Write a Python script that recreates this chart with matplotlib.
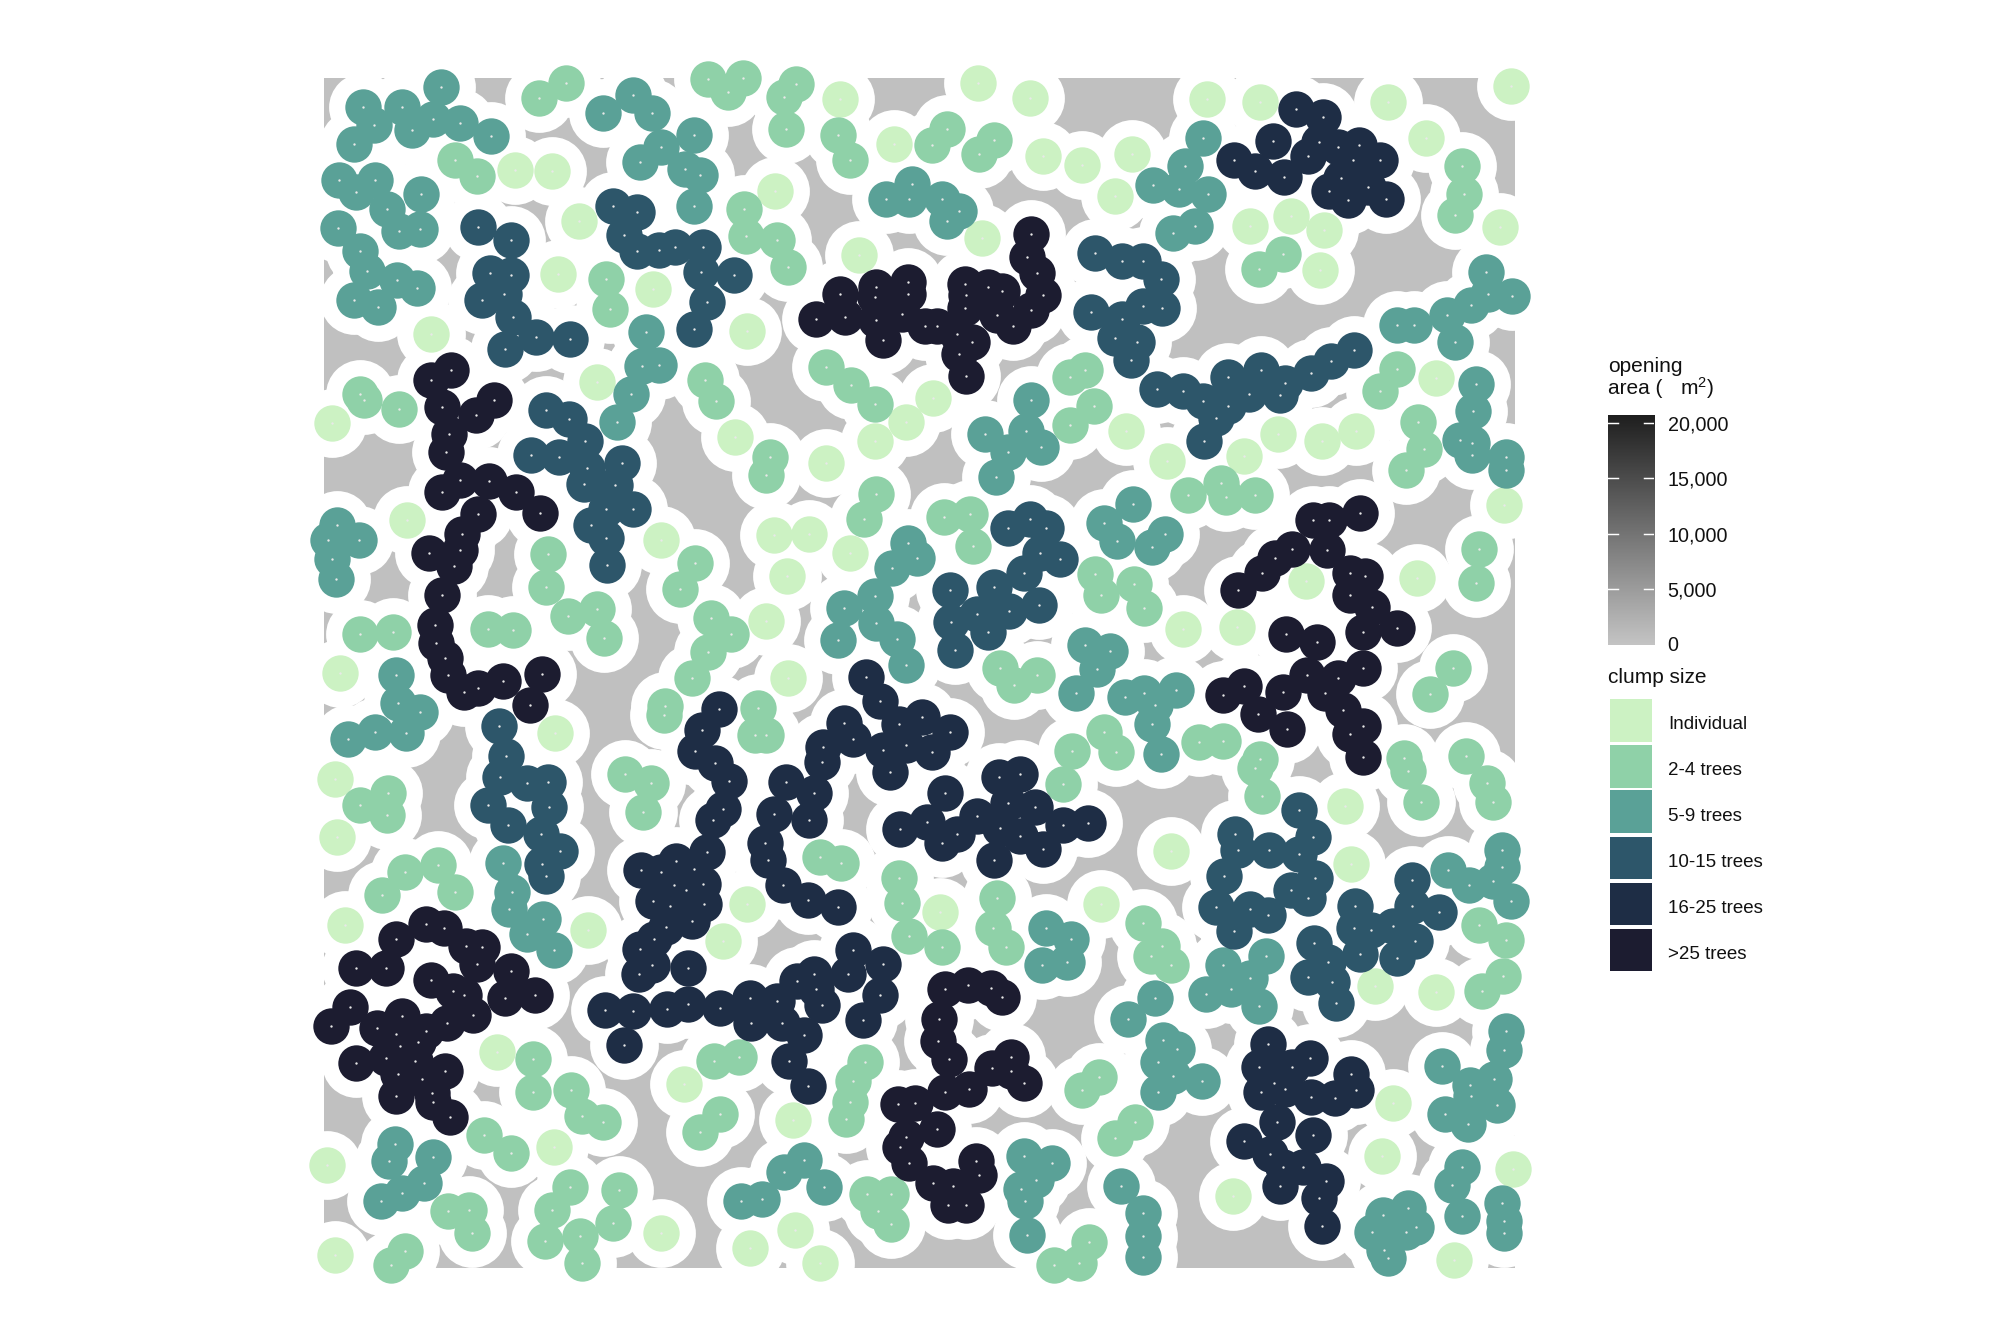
import numpy as np
import matplotlib
matplotlib.use('Agg')
import matplotlib.pyplot as plt
from matplotlib.patches import Rectangle

plt.rcParams['font.family'] = ['Liberation Sans', 'DejaVu Sans']
plt.rcParams['mathtext.default'] = 'regular'

# tree positions (map units, y runs downwards)
individual = [(527,295),(618,298),(1322,121),(1456,230),(1164,347),(683,420),(1369,503),(632,548),(866,587),(322,697),(1096,689),(727,813),(78,915),(1551,853),(1485,912),(1408,959),(1067,948),(1289,1013),(263,1152),(884,1200),(1161,1189),(1248,1185),(1348,1233),(1194,1290),(1143,1400),(97,1527),(1197,1540),
    (1661,81),(1788,117),(2222,121),(2353,128),(2667,128),(2966,88),(2759,215),(1820,260),(1916,282),(2039,256),(1996,358),(2941,434),(2328,431),(2427,408),(2510,441),(2499,540),(1672,460),(2025,934),(2124,1007),(2314,996),(2397,941),(2503,959),(2587,934),(2783,803),(2951,1116),(2466,1301),(2736,1295),(2164,1418),(2295,1415),
    (625,1673),(86,1786),(92,1928),(1096,2093),(706,2155),(111,2144),(1037,2184),(483,2454),(942,2534),(1208,2621),(622,2687),(67,2731),(884,2899),(1212,2891),(1102,2935),(1274,2971),(86,2953),
    (1569,2111),(1963,2093),(2134,1962),(2561,1852),(2575,1994),(2633,2293),(2783,2308),(2678,2581),(2650,2709),(2287,2807),(2973,2742),(2827,2964)]

trees_2_4 = [(585,117),(651,81),(1000,72),(1085,70),(1048,103),(1216,84),(1186,116),(1190,195),(1318,208),(1347,270),(381,270),(435,310),(1088,390),(1092,456),(1168,467),(1197,533),(749,562),(760,635),(1288,777),(1351,821),(1408,868),(993,810),(1019,860),(147,842),(156,858),(242,879),(1151,998),(1142,1042),(1412,1087),(1383,1150),(609,1236),(603,1316),(657,1386),(727,1371),(745,1440),(968,1258),(931,1322),(1008,1393),(1056,1432),(1000,1476),(960,1540),(147,1430),(228,1425),(461,1418),(523,1421),
    (1548,232),(1585,193),(1664,254),(1701,222),(2847,285),(2853,352),(2831,404),(2349,536),(2408,500),(1887,802),(1924,784),(1887,919),(1946,872),(2689,781),(2646,836),(2740,912),(2755,978),(2711,1029),(2176,1091),(2256,1062),(2268,1095),(2339,1091),(1577,1145),(1642,1138),(1650,1216),(1948,1284),(1963,1335),(2044,1308),(2069,1368),(2889,1222),(2882,1306),(2824,1515),(1716,1515),(1806,1531),
    (895,1608),(892,1630),(1122,1612),(1114,1678),(1143,1678),(796,1775),(860,1796),(840,1867),(147,1849),(216,1820),(214,1875),(257,2013),(338,1998),(381,2064),(202,2071),(1274,1977),(1325,1991),(1467,2028),(1474,2090),(1492,2170),(570,2472),(570,2553),(665,2549),(691,2611),(743,2626),(450,2659),(516,2702),(1014,2476),(1076,2468),(1384,2480),(1354,2525),(1347,2577),(1337,2619),(1029,2606),(979,2650),(661,2786),(618,2841),(781,2793),(767,2874),(600,2918),(687,2907),(691,2973),(362,2844),(414,2841),(421,2899),(1390,2804),(1449,2804),(1417,2844),(1447,2877),(257,2943),(224,2976),
    (1749,1557),(1891,1718),(1869,1798),(1971,1671),(2000,1721),(2204,1696),(2262,1693),(2353,1737),(2340,1760),(2356,1828),(2768,1579),(2704,1736),(2715,1766),(2747,1842),(2856,1731),(2908,1796),(2922,1843),(1708,2077),(1697,2151),(1730,2199),(1572,2199),(2065,2140),(2111,2195),(2086,2221),(2134,2241),(2889,2144),(2955,2181),(2947,2268),(2897,2305),(1959,2517),(1916,2549),(2047,2626),(1996,2665),(1847,2976),(1909,2971),(1933,2921)]

trees_5_9 = [(345,91),(154,140),(250,140),(181,184),(275,197),(326,170),(392,179),(468,212),(133,230),(96,320),(183,318),(137,348),(297,354),(214,391),(93,437),(242,445),(294,438),(148,492),(165,541),(237,565),(286,584),(133,614),(191,631),(742,154),(815,110),(862,154),(965,208),(885,239),(832,274),(943,291),(979,307),(965,382),(92,1163),(69,1200),(144,1200),(78,1248),(89,1296),(235,1531),(847,692),(838,775),(880,773),(811,843),(778,911),(1435,365),(1493,365),(1500,328),(1573,365),(1615,394),(1585,419),(1489,1207),(1511,1245),(1450,1270),(1408,1337),(1332,1367),(1412,1405),(1464,1443),(1318,1445),(1486,1506),
    (2212,215),(2168,285),(2091,332),(2153,340),(2226,354),(2138,448),(2194,432),(2905,544),(2970,602),(2912,598),(2868,624),(2810,650),(2689,675),(2730,675),(2831,716),(2882,818),(2875,884),(2842,956),(2871,964),(2871,992),(2955,998),(2955,1029),(1792,857),(1679,941),(1780,934),(1815,974),(1735,985),(1705,1047),(2040,1113),(1971,1160),(2003,1204),(2120,1186),(2087,1219),(1924,1458),(1984,1472),(1952,1516),
    (240,1600),(294,1623),(183,1670),(260,1673),(117,1688),(232,2680),(218,2723),(326,2713),(305,2775),(250,2800),(198,2819),(497,1992),(519,2062),(512,2104),(595,2129),(556,2166),(622,2205),(1234,2720),(1186,2748),(1285,2786),(1080,2819),(1131,2815),
    (1902,1575),(2022,1585),(2068,1575),(2146,1568),(2094,1605),(2087,1652),(2109,1726),(1828,2151),(1890,2178),(1818,2241),(1880,2235),(2262,2242),(2368,2220),(2328,2275),(2280,2300),(2219,2312),(2350,2342),(2094,2322),(2029,2374),(2115,2425),(2148,2448),(2102,2480),(2140,2513),(2210,2527),(2102,2553),(1773,2709),(1842,2727),(1767,2790),(1803,2768),(1777,2819),(1781,2903),(2011,2783),(2066,2849),(2065,2907),(2065,2957),(2955,2403),(2951,2450),(2798,2490),(2867,2535),(2926,2520),(2868,2564),(2805,2608),(2862,2632),(2933,2585),(2812,2008),(2865,2045),(2944,1959),(2944,2003),(2922,2035),(2966,2085),(2848,2738),(2823,2782),(2846,2858),(2944,2826),(2951,2870),(2951,2899),(2654,2855),(2715,2837),(2735,2884),(2627,2895),(2657,2940),(2667,2960),(2710,2895)]

trees_10_15 = [(767,382),(826,397),(794,453),(826,494),(880,490),(920,483),(987,482),(983,545),(1063,551),(997,617),(965,685),(436,435),(516,467),(466,547),(517,551),(446,613),(501,597),(523,655),(579,703),(661,708),(502,733),(603,882),(660,905),(699,959),(566,992),(635,998),(704,1024),(790,1013),(695,1064),(772,1066),(815,1124),(751,1125),(712,1164),(750,1197),(753,1263),
    (1948,497),(2014,518),(2065,518),(2109,562),(2066,628),(2112,632),(1937,642),(2014,660),(1996,705),(2050,716),(2036,760),(2101,831),(2164,835),(2213,860),(2275,802),(2355,784),(2413,817),(2477,791),(2526,762),(2583,736),(2325,842),(2273,872),(2244,901),(2401,846),(2215,959),(1734,1171),(1789,1150),(1829,1171),(1814,1233),(1862,1248),(1774,1281),(1700,1315),(1592,1323),(1594,1402),(1660,1382),(1737,1374),(1811,1359),(1686,1425),(1606,1470),
    (487,1656),(505,1729),(490,1781),(556,1796),(608,1794),(610,1855),(461,1850),(510,1900),(590,1920),(636,1962),(592,1994),(603,2023),
    (2290,1920),(2375,1960),(2298,1961),(2449,1863),(2482,1929),(2448,1969),(2488,2029),(2265,2023),(2429,2057),(2470,2077),(2245,2100),(2327,2104),(2371,2119),(2288,2158),(2725,2034),(2585,2097),(2623,2156),(2582,2151),(2679,2147),(2724,2098),(2790,2112),(2731,2184),(2689,2225),(2598,2214),(2484,2187),(2519,2235),(2469,2271),(2528,2283),(2539,2334)]

trees_16_25 = [(2441,146),(2507,164),(2383,223),(2496,226),(2544,238),(2595,234),(2470,260),(2288,270),(2339,296),(2411,311),(2580,270),(2646,270),(2551,314),(2617,336),(2521,347),(2568,369),(2660,365),
    (1388,1536),(1420,1594),(1467,1651),(1525,1634),(1333,1650),(1355,1688),(1281,1708),(1278,1745),(1429,1715),(1484,1703),(1445,1770),(1592,1670),(1548,1721),(1026,1615),(986,1667),(969,1718),(1016,1747),(1052,1792),(1037,1861),(1012,1886),(998,1966),(1190,1793),(1260,1821),(1161,1871),(1248,1886),(1140,1944),(1147,1984),(1183,2045),(1245,2082),(1318,2100),
    (836,2009),(885,2014),(921,1986),(966,2007),(987,2044),(917,2046),(865,2084),(907,2098),(947,2058),(990,2092),(960,2134),(898,2148),(868,2178),(833,2203),(862,2241),(830,2263),(950,2250),
    (1355,2206),(1429,2239),(1344,2264),(1260,2265),(1219,2282),(1265,2300),(1420,2315),(1278,2341),(1380,2377),(1102,2323),(1168,2330),(1180,2385),(1106,2385),(1234,2414),(1198,2476),(1245,2538),(748,2352),(815,2355),(900,2349),(951,2338),(1029,2348),(793,2439),
    (1713,1782),(1765,1775),(1580,1820),(1735,1845),(1800,1855),(1536,1892),(1610,1920),(1660,1878),(1573,1943),(1715,1907),(1765,1925),(1820,1958),(1700,1985),(1870,1900),(1930,1893),(1470,1910),
    (2372,2435),(2474,2469),(2575,2508),(2351,2491),(2431,2491),(2387,2530),(2354,2552),(2413,2545),(2476,2566),(2536,2568),(2587,2547),(2393,2626),(2481,2659),(2314,2672),(2377,2705),(2457,2737),(2409,2738),(2514,2770),(2402,2784),(2496,2813),(2503,2881)]

trees_over_25 = [(370,784),(322,810),(347,875),(476,857),(431,894),(366,940),(359,985),(393,1055),(348,1082),(464,1057),(530,1082),(589,1134),(436,1137),(396,1186),(392,1225),(316,1232),(378,1264),(347,1335),(330,1410),(334,1452),(356,1490),(362,1531),(436,1563),(497,1545),(592,1530),
    (1323,598),(1264,660),(1335,654),(1412,580),(1490,568),(1408,605),(1490,597),(1412,662),(1475,647),(1429,711),(1532,676),(1562,676),(1630,574),(1685,582),(1720,590),(1633,600),(1630,633),(1708,650),(1790,638),(1820,600),(1805,547),(1782,508),(1792,450),(1748,676),(1610,695),(1647,716),(1615,745),(1631,800),
    (2598,1134),(2482,1152),(2521,1152),(2430,1222),(2517,1226),(2388,1244),(2573,1281),(2358,1281),(2609,1288),(2298,1323),(2573,1336),(2627,1365),(2689,1416),(2605,1425),(2415,1431),(2492,1450),
    (401,1572),(563,1605),(308,2142),(352,2151),(235,2179),(407,2196),(447,2199),(137,2250),(210,2250),(435,2239),(517,2257),(322,2279),(375,2305),(403,2315),(577,2315),(502,2322),(122,2344),(424,2364),(75,2392),(360,2385),(250,2367),(188,2396),(308,2404),(245,2440),(138,2483),(210,2470),(282,2476),(355,2501),(235,2562),(323,2555),(325,2577),(367,2615),(235,2410),(290,2430),(240,2510),(300,2520),(1465,2582),(1508,2580),(1484,2663),(1471,2687),(1492,2727),
    (2313,1558),(2262,1580),(2408,1573),(2468,1531),(2543,1538),(2605,1514),(2511,1575),(2555,1617),(2347,1628),(2419,1663),(2605,1657),(2572,1675),(2605,1732),
    (1580,2300),(1638,2290),(1692,2298),(1720,2321),(1565,2374),(1563,2427),(1591,2472),(1743,2467),(1695,2495),(1742,2502),(1640,2546),(1580,2554),(1775,2530),(1562,2643),(1657,2723),(1664,2757),(1599,2783),(1550,2775),(1588,2830),(1632,2830)]

clump_labels = ['Individual', '2-4 trees', '5-9 trees', '10-15 trees', '16-25 trees', '>25 trees']
clump_colors = ['#CCF2C3', '#8FD1A8', '#5AA197', '#2D566A', '#1E2D45', '#1C1C30']
clumps = [individual, trees_2_4, trees_5_9, trees_10_15, trees_16_25, trees_over_25]

opening_ticks = [0, 5000, 10000, 15000, 20000]

W, H = 2016, 1344
DPI = 150


def axes_px(left, top, right, bottom):
    return fig.add_axes([left / W, 1 - bottom / H, (right - left) / W, (bottom - top) / H])


fig = plt.figure(figsize=(W / DPI, H / DPI), dpi=DPI)

# map
ax = axes_px(324, 78, 1515, 1267.5)
ax.set_facecolor('#C0C0C0')
ax.set_xlim(59, 2977)
ax.set_ylim(2983, 69)
ax.set_xticks([])
ax.set_yticks([])
for s in ax.spines.values():
    s.set_visible(False)

all_trees = np.array([p for c in clumps for p in c])
ax.scatter(all_trees[:, 0], all_trees[:, 1], s=1090, color='white', linewidths=0, clip_on=False, zorder=2)
for trees, col in zip(clumps, clump_colors):
    xy = np.array(trees)
    ax.scatter(xy[:, 0], xy[:, 1], s=305, color=col, linewidths=0, clip_on=False, zorder=3)
ax.scatter(all_trees[:, 0], all_trees[:, 1], s=1.3, color='#E8E8E8', linewidths=0, clip_on=False, zorder=4)

# opening area colourbar
cax = axes_px(1608, 415, 1654, 645)
top_value = 20700
grad = np.linspace(0, 1, 256).reshape(-1, 1)
cmap = matplotlib.colors.LinearSegmentedColormap.from_list('gr', ['#C4C4C4', '#1E1E1E'])
cax.imshow(grad, origin='lower', aspect='auto', cmap=cmap, extent=[0, 1, 0, top_value])
cax.set_xlim(0, 1)
cax.set_ylim(0, top_value)
cax.set_xticks([])
cax.yaxis.tick_right()
cax.set_yticks(opening_ticks)
cax.set_yticklabels([f'{v:,}' for v in opening_ticks], fontsize=9.5, color='#111111')
cax.tick_params(axis='y', length=0, pad=6.5)
cax.get_yticklabels()[0].set_va('center')
for s in cax.spines.values():
    s.set_visible(False)
for v in opening_ticks[1:]:
    cax.plot([0, 0.22], [v, v], color='white', lw=0.7)
    cax.plot([0.78, 1], [v, v], color='white', lw=0.7)

# legend titles and swatches, positioned in figure pixels
lax = fig.add_axes([0, 0, 1, 1], facecolor='none')
lax.set_xlim(0, W)
lax.set_ylim(H, 0)
lax.axis('off')
lax.text(1608, 366, 'opening', fontsize=10, va='center', color='#111111')
lax.text(1608, 388, 'area (', fontsize=10, va='center', color='#111111')
lax.text(1680, 388, 'm$^{2}$)', fontsize=10, va='center', color='#111111')
lax.text(1608, 677, 'clump size', fontsize=10, va='center', color='#111111')

swatch_top = [699, 745, 790, 837, 883, 929]
swatch_h = [43, 43, 43, 42, 42, 42]
label_y = [724, 770, 816, 862, 908, 954]
for t, h, y, col, lab in zip(swatch_top, swatch_h, label_y, clump_colors, clump_labels):
    lax.add_patch(Rectangle((1610, t), 42, h, facecolor=col, edgecolor='none'))
    lax.text(1668, y, lab, fontsize=9, va='center', color='#111111')

fig.savefig('out.png', dpi=DPI)
